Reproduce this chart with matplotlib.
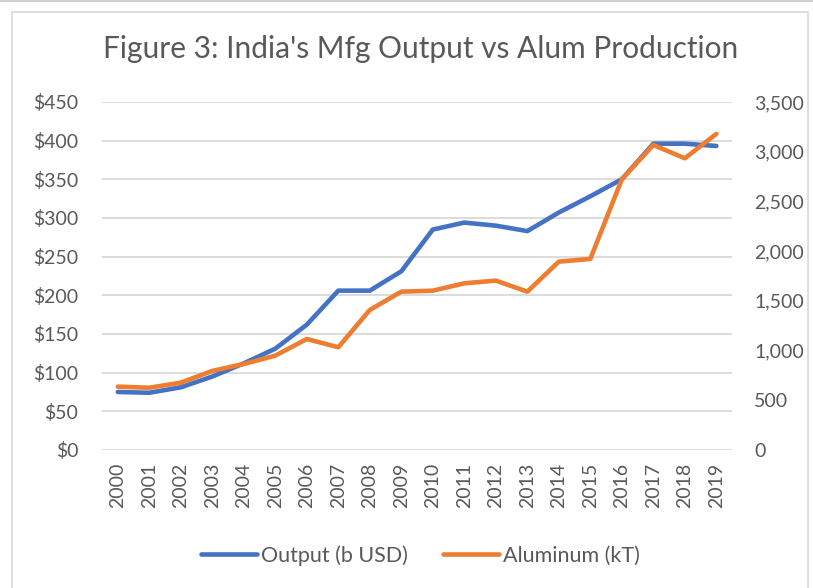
import matplotlib.pyplot as plt
from matplotlib.patches import Rectangle
from matplotlib.ticker import FuncFormatter

years = [str(y) for y in range(2000, 2020)]
output_busd = [75, 74, 81, 95, 112, 131, 162, 206, 206, 231,
               285, 294, 290, 283, 307, 328, 350, 396, 396, 393]
aluminum_kt = [637, 626, 677, 795, 865, 949, 1116, 1033, 1408, 1592,
               1602, 1676, 1703, 1592, 1894, 1921, 2722, 3067, 2933, 3178]

plt.rcParams['font.family'] = ['Lato', 'DejaVu Sans']
txt = '#595959'
blue = '#4472C4'
orange = '#ED7D31'

fig = plt.figure(figsize=(8.13, 5.88), dpi=100)
ax = fig.add_axes([0.1255, 0.2347, 0.775, 0.592])
ax2 = ax.twinx()

x = list(range(len(years)))
l1, = ax.plot(x, output_busd, color=blue, lw=3.3, solid_capstyle='round',
              label='Output (b USD)', zorder=3)
l2, = ax2.plot(x, aluminum_kt, color=orange, lw=3.3, solid_capstyle='round',
               label='Aluminum (kT)', zorder=3)

ax.set_xlim(-0.5, len(years) - 0.5)
ax.set_ylim(0, 450)
ax2.set_ylim(0, 3500)
ax.set_yticks(range(0, 451, 50))
ax2.set_yticks(range(0, 3501, 500))
ax.yaxis.set_major_formatter(FuncFormatter(lambda v, p: f'${v:,.0f}'))
ax2.yaxis.set_major_formatter(FuncFormatter(lambda v, p: f'{v:,.0f}'))
ax.set_xticks(x)
ax.set_xticklabels(years, rotation=90)

for a in (ax, ax2):
    for s in a.spines.values():
        s.set_visible(False)
    a.tick_params(length=0, labelsize=14, labelcolor=txt)
ax.tick_params(axis='y', pad=17)
ax2.tick_params(axis='y', pad=16)
ax.tick_params(axis='x', pad=9)
ax.grid(axis='y', color='#D9D9D9', lw=1.3)
ax.set_axisbelow(True)

fig.suptitle("Figure 3: India's Mfg Output vs Alum Production", x=0.517, y=0.916,
             va='center', fontsize=21.5, color=txt)
fig.legend(handles=[l1, l2], loc='center', bbox_to_anchor=(0.517, 0.055), ncol=2,
           frameon=False, fontsize=15.5, labelcolor=txt, handlelength=2.6,
           handletextpad=0.2, columnspacing=1.6)

fig.patches.append(Rectangle((0.0148, -0.01), 0.979, 0.99, transform=fig.transFigure,
                             fill=False, edgecolor='#D9D9D9', lw=1.2))
fig.add_artist(plt.Line2D([0, 1], [0.999, 0.999], color='#D0D0D0', lw=1.5))

plt.savefig('out.png', dpi=100)
